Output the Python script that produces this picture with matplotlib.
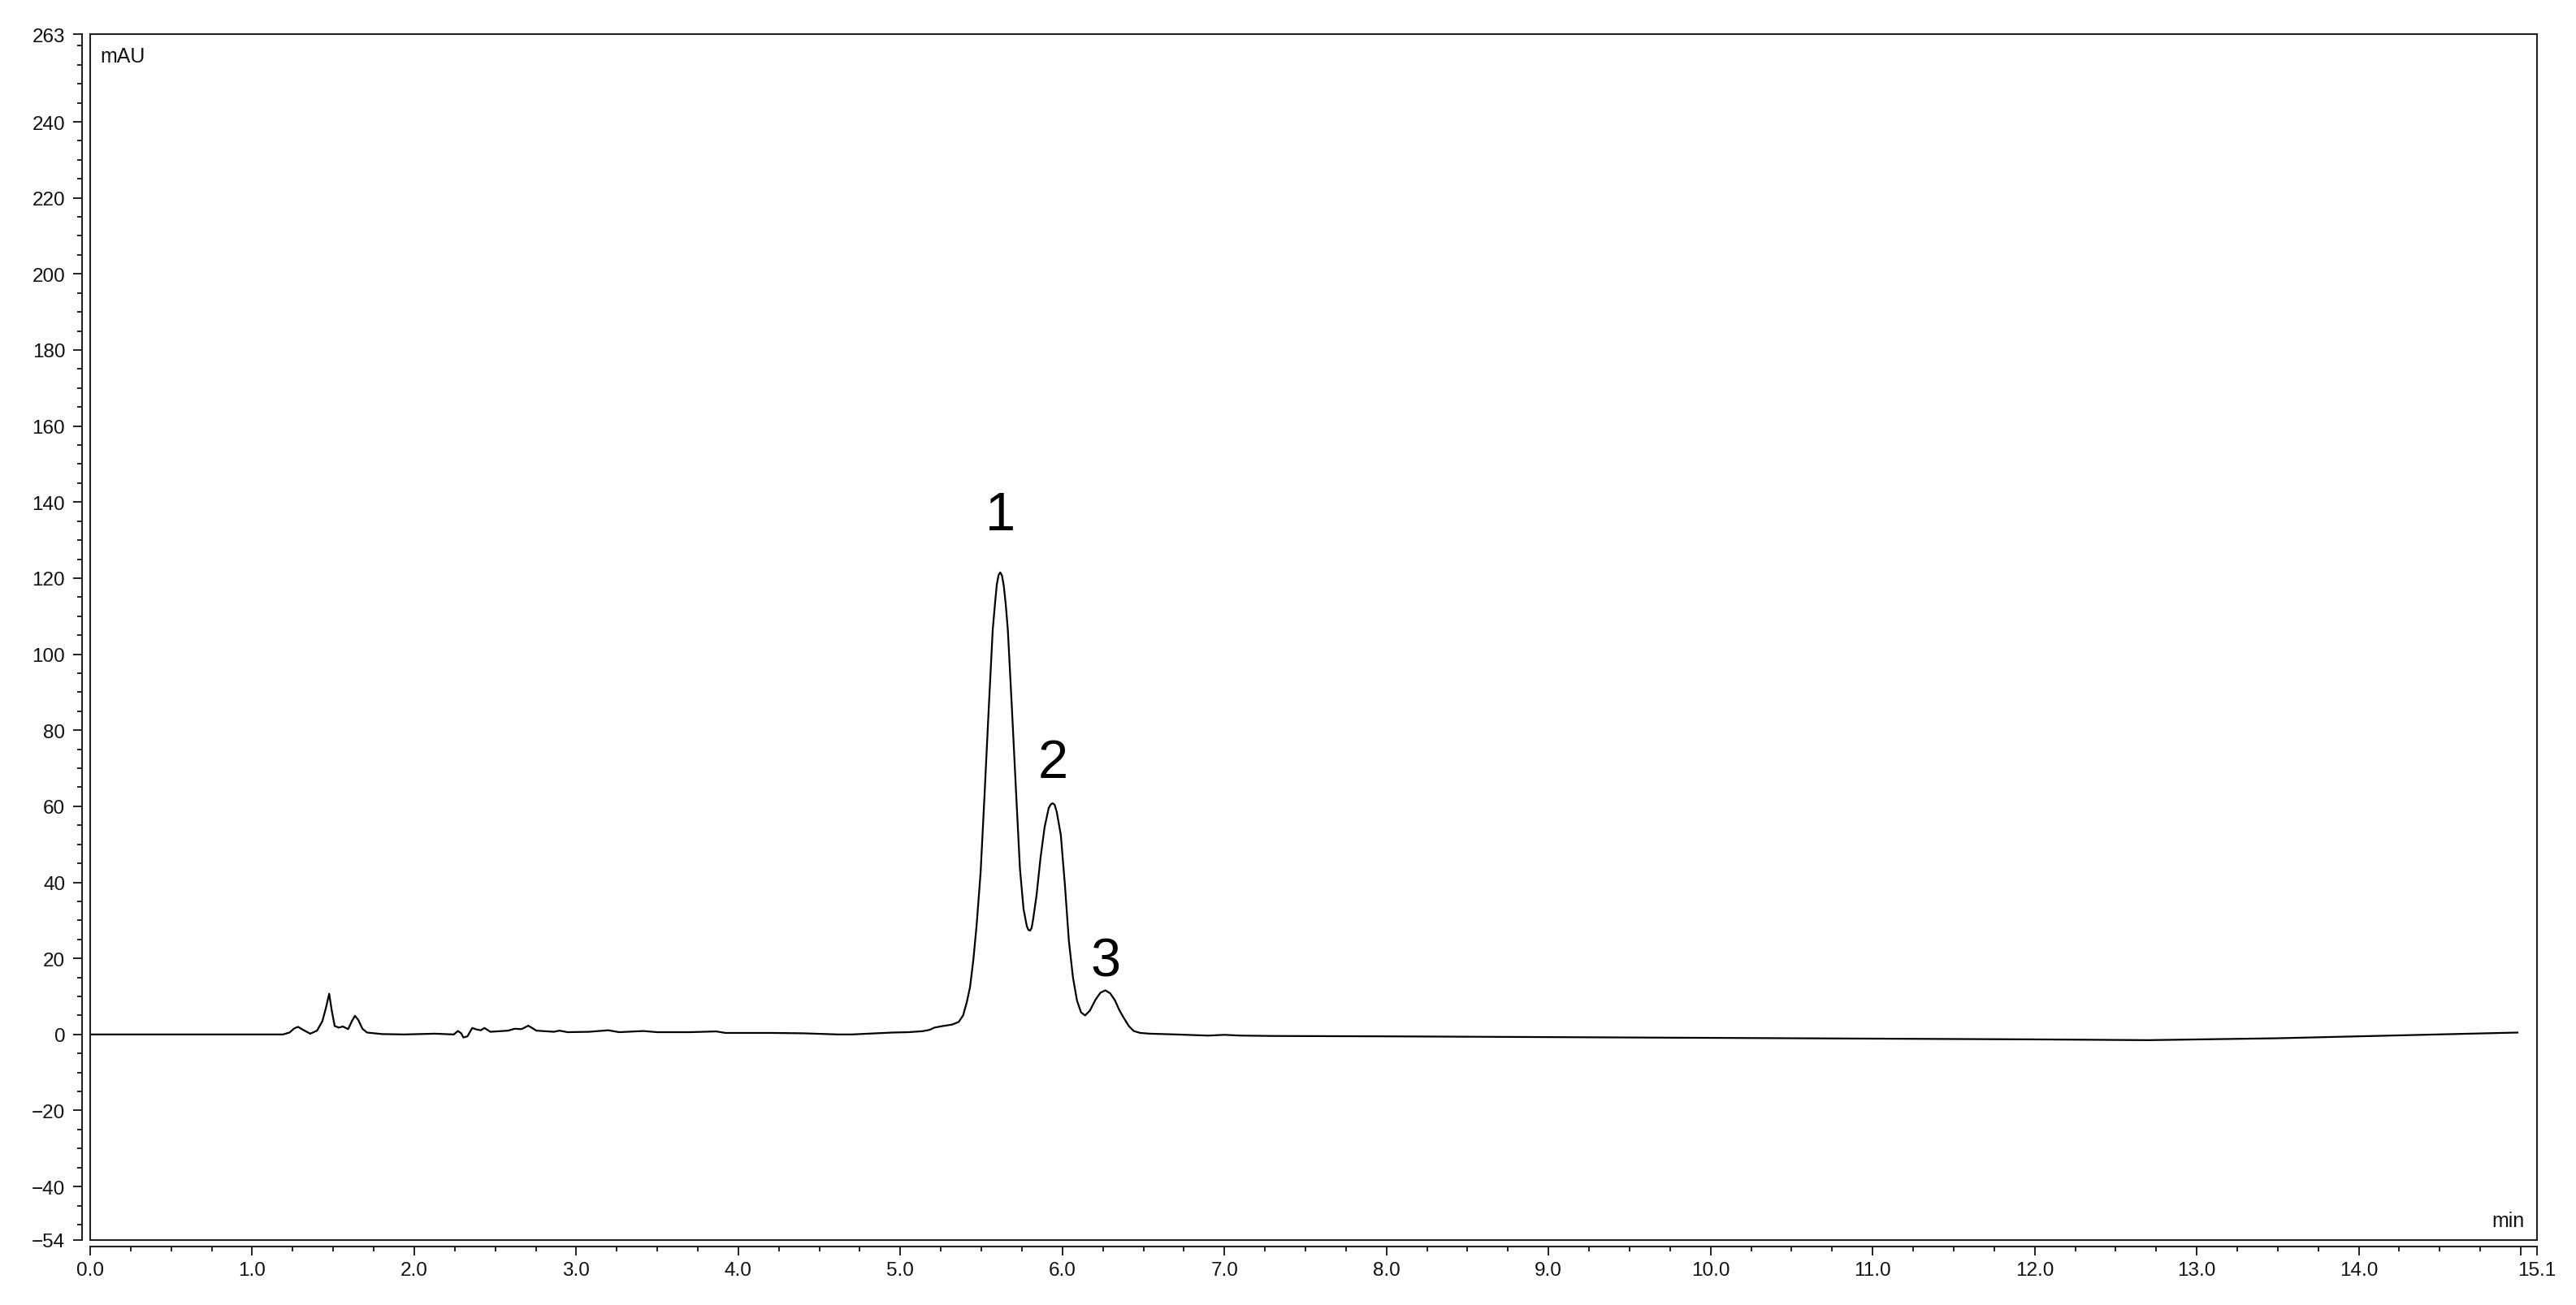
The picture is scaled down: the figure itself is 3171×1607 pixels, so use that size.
import matplotlib
matplotlib.use("Agg")
import matplotlib.pyplot as plt
from matplotlib.patches import Rectangle
from matplotlib.ticker import FixedLocator

plt.rcParams["font.family"] = ["Liberation Sans", "DejaVu Sans"]

# chromatogram trace (time in min, signal in mAU)
time_min = [
    0.00, 0.60, 1.19, 1.23, 1.26, 1.283, 1.31, 1.358, 1.40, 1.433, 1.455, 1.475,
    1.49, 1.509, 1.535, 1.559, 1.592, 1.615, 1.634, 1.655, 1.68, 1.709, 1.80,
    1.94, 2.127, 2.244, 2.269, 2.29, 2.303, 2.328, 2.358, 2.385, 2.411, 2.433,
    2.47, 2.579, 2.62, 2.662, 2.704, 2.754, 2.862, 2.896, 2.946, 3.08, 3.197,
    3.264, 3.414, 3.50, 3.70, 3.864, 3.92, 4.20, 4.40, 4.617, 4.70, 4.95, 5.05,
    5.136, 5.18, 5.21, 5.26, 5.32, 5.36, 5.387, 5.41, 5.43, 5.45, 5.47, 5.495,
    5.52, 5.545, 5.57, 5.585, 5.595, 5.606, 5.616, 5.627, 5.638, 5.65, 5.663,
    5.688, 5.713, 5.738, 5.76, 5.78, 5.79, 5.80, 5.81, 5.82, 5.84, 5.865, 5.89,
    5.915, 5.928, 5.94, 5.952, 5.965, 5.99, 6.015, 6.04, 6.065, 6.09, 6.115,
    6.14, 6.17, 6.205, 6.235, 6.265, 6.295, 6.325, 6.35, 6.375, 6.41, 6.44,
    6.48, 6.54, 6.70, 6.90, 7.00, 7.10, 7.30, 8.00, 9.00, 10.00, 11.00, 12.00,
    12.70, 13.50, 14.00, 14.50, 14.98,
]
signal_mau = [
    0.0, 0.0, 0.0, 0.5, 1.6, 2.0, 1.3, 0.2, 1.0, 3.5, 7.0, 10.7,
    6.5, 2.2, 1.8, 2.1, 1.4, 3.5, 4.9, 3.8, 1.5, 0.5, 0.1,
    0.0, 0.2, 0.0, 0.9, 0.3, -0.8, -0.5, 1.7, 1.3, 1.1, 1.7,
    0.7, 1.0, 1.5, 1.4, 2.3, 1.0, 0.7, 1.0, 0.6, 0.7, 1.1,
    0.6, 0.9, 0.6, 0.6, 0.8, 0.4, 0.4, 0.3, 0.0, 0.0, 0.5, 0.6,
    0.85, 1.2, 1.8, 2.2, 2.6, 3.3, 5.0, 8.5, 12.5, 19.5, 28.5, 42.5,
    63.5, 85.5, 106.5, 113.8, 118.3, 120.8, 121.5, 120.7, 118.0, 113.2, 106.5,
    86.0, 64.5, 43.5, 33.0, 28.5, 27.5, 27.3, 28.0, 30.5, 36.5, 46.5, 54.5,
    59.5, 60.5, 60.8, 60.4, 58.5, 52.5, 39.5, 24.5, 15.0, 8.9, 5.8,
    5.0, 6.3, 9.2, 11.0, 11.6, 10.8, 8.9, 6.5, 4.6, 2.2, 0.9,
    0.4, 0.2, 0.0, -0.3, -0.1, -0.3, -0.4, -0.5, -0.7, -0.9, -1.1, -1.3,
    -1.5, -1.0, -0.5, 0.0, 0.5,
]

peak_names = ["1", "2", "3"]
peak_times = [5.616, 5.94, 6.265]
label_offsets_pt = [38, 23, 12.7]  # label baseline above apex

x_major = [float(i) for i in range(16)] + [15.1]
x_labels = [f"{v:.1f}" for v in x_major]
x_labels[15] = ""
y_major = [-54, -40, -20, 0, 20, 40, 60, 80, 100, 120, 140, 160, 180, 200, 220, 240, 263]
y_labels = [str(v).replace("-", "\u2212") for v in y_major]

fig = plt.figure(figsize=(31.71, 16.08), dpi=100)
ax = fig.add_axes([111 / 3171, 1 - 1527.7 / 1608, (3123 - 111) / 3171, (1527.7 - 43.3) / 1608])

ax.plot(time_min, signal_mau, color="black", lw=1.6, solid_joinstyle="round")

ax.set_xlim(0, 15.1)
ax.set_ylim(-54, 263)

# frame around the plot area, axis lines sit a bit outside it
ax.add_patch(Rectangle((0, 0), 1, 1, transform=ax.transAxes, fill=False,
                       ec="#222222", lw=1.5, clip_on=False, zorder=5))
for s in ["top", "right"]:
    ax.spines[s].set_visible(False)
ax.spines["left"].set_position(("outward", 7.2))
ax.spines["bottom"].set_position(("outward", 6))
for s in ["left", "bottom"]:
    ax.spines[s].set_linewidth(1.5)
    ax.spines[s].set_color("#222222")

ax.xaxis.set_major_locator(FixedLocator(x_major))
ax.set_xticklabels(x_labels)
x_minor = [i * 0.25 for i in range(61) if i % 4 != 0]
ax.xaxis.set_minor_locator(FixedLocator(x_minor))

ax.yaxis.set_major_locator(FixedLocator(y_major))
ax.set_yticklabels(y_labels)
y_minor = [v for v in range(-50, 261, 5) if v not in y_major]
ax.yaxis.set_minor_locator(FixedLocator(y_minor))

ax.tick_params(axis="both", which="major", direction="out", length=8, width=1.4,
               labelsize=17.5, color="#222222", labelcolor="#111111")
ax.tick_params(axis="both", which="minor", direction="out", length=4.3, width=1.4,
               color="#222222")
ax.tick_params(axis="y", which="major", pad=7)
ax.tick_params(axis="x", which="major", pad=5)

ax.annotate("mAU", xy=(0, 1), xycoords="axes fraction", xytext=(9, -24),
            textcoords="offset points", ha="left", va="baseline", fontsize=18,
            color="#111111")
ax.annotate("min", xy=(1, 0), xycoords="axes fraction", xytext=(-10.8, 12),
            textcoords="offset points", ha="right", va="baseline", fontsize=18,
            color="#111111")

for name, t, off in zip(peak_names, peak_times, label_offsets_pt):
    i = min(range(len(time_min)), key=lambda k: abs(time_min[k] - t))
    ax.annotate(name, xy=(time_min[i], signal_mau[i]), xytext=(0, off),
                textcoords="offset points", ha="center", va="baseline",
                fontsize=48, color="black")

fig.savefig("out.png", dpi=100)
